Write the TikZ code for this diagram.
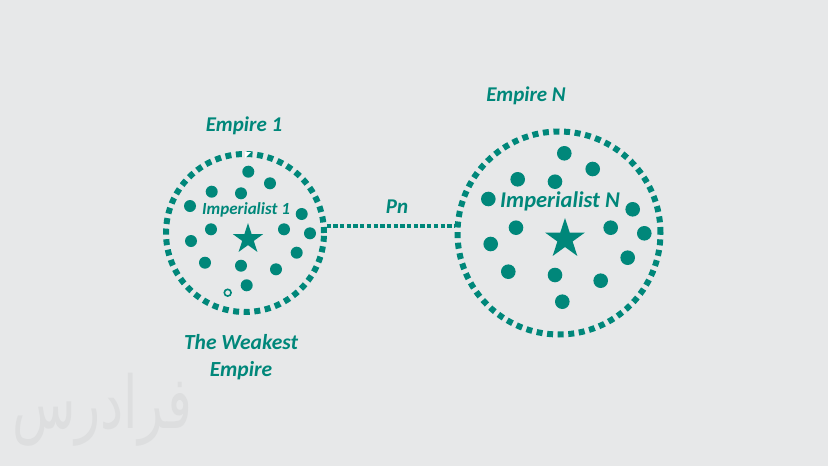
\documentclass[tikz,border=0pt]{standalone}
\usepackage{fontspec}
\setmainfont{Carlito}
\newfontfamily\arabicfont[Script=Arabic]{DejaVu Sans}
\TeXXeTstate=1
\usetikzlibrary{shapes.geometric}
\definecolor{bg}{HTML}{E7E8E9}
\definecolor{teal}{HTML}{00877A}
\definecolor{wm}{HTML}{DDDEDF}
\tikzset{
  empire/.style={circle, draw=teal, line width=6pt, dash pattern=on 6pt off 4.6pt, inner sep=0pt, minimum size=#1},
  conn/.style={draw=teal, line width=4.3pt, dash pattern=on 4.3pt off 2.4pt},
  lbl/.style={text=teal, font=\bfseries\itshape\fontsize{21}{27}\selectfont, inner sep=0pt, align=center},
  imp/.style={text=teal, font=\bfseries\itshape\fontsize{#1}{#1}\selectfont, inner sep=0pt},
  kstar/.style={star, star points=5, star point ratio=2.618, fill=teal, inner sep=0pt, minimum size=#1},
}
\begin{document}
\begin{tikzpicture}[x=1pt,y=-1pt]
\fill[bg] (0,0) rectangle (828,466);
\useasboundingbox (0,0) rectangle (828,466);
% watermark
\node[text=wm, font=\arabicfont\fontsize{52}{52}\selectfont, inner sep=0pt, yscale=1.4] (wm) at (102,410) {\beginR فرادرس\endR};
% empires
\node[empire=158pt] (e1) at (245,233) {};
\node[empire=203pt] (eN) at (559,233) {};
% connector
\draw[conn] (e1.5.8) -- (e1.5.8 -| eN.west);
% small white marker on circle 1
\fill[white] (245,152) -- (251,152) -- (245,158) -- cycle;
% left dots
\foreach \p in {(248.3,171.7),(270,183.3),(211.7,191.7),(241,193.3),(190,206),(301.7,214),(211,229.3),(284,229.3),(310,233.3),(191,241),(296.7,252.7),(205,262.7),(241,265.7),(276,269.3),(246.7,285.3)}
  \fill[teal] \p circle (6pt);
\draw[teal, line width=1.6pt] (227.7,292.7) circle (3.4pt);
% right dots
\foreach \p in {(564.3,153.3),(592.7,169),(517.7,179.3),(555,181.7),(488.3,199),(632.7,209.3),(516,227.7),(610.7,227.7),(644.3,233.3),(490.7,244),(627.7,257.7),(508.3,271.7),(555,275),(600.7,280.7),(562.3,301.7)}
  \fill[teal] \p circle (7.3pt);
% stars
\node[kstar=32pt] (s1) at (248,239) {};
\node[kstar=42pt] (sN) at (565,239) {};
% texts
\node[imp=17] (i1) at (246,209.5) {Imperialist 1};
\node[imp=22.5] (iN) at (560,201) {Imperialist N};
\node[lbl] (l1) at (244,126) {Empire 1};
\node[lbl] (lN) at (526,96) {Empire N};
\node[lbl] (pn) at (397,207) {Pn};
\node[lbl, font=\bfseries\itshape\fontsize{21.5}{27}\selectfont] (weak) at (241,357) {The Weakest\\Empire};
\end{tikzpicture}
\end{document}
